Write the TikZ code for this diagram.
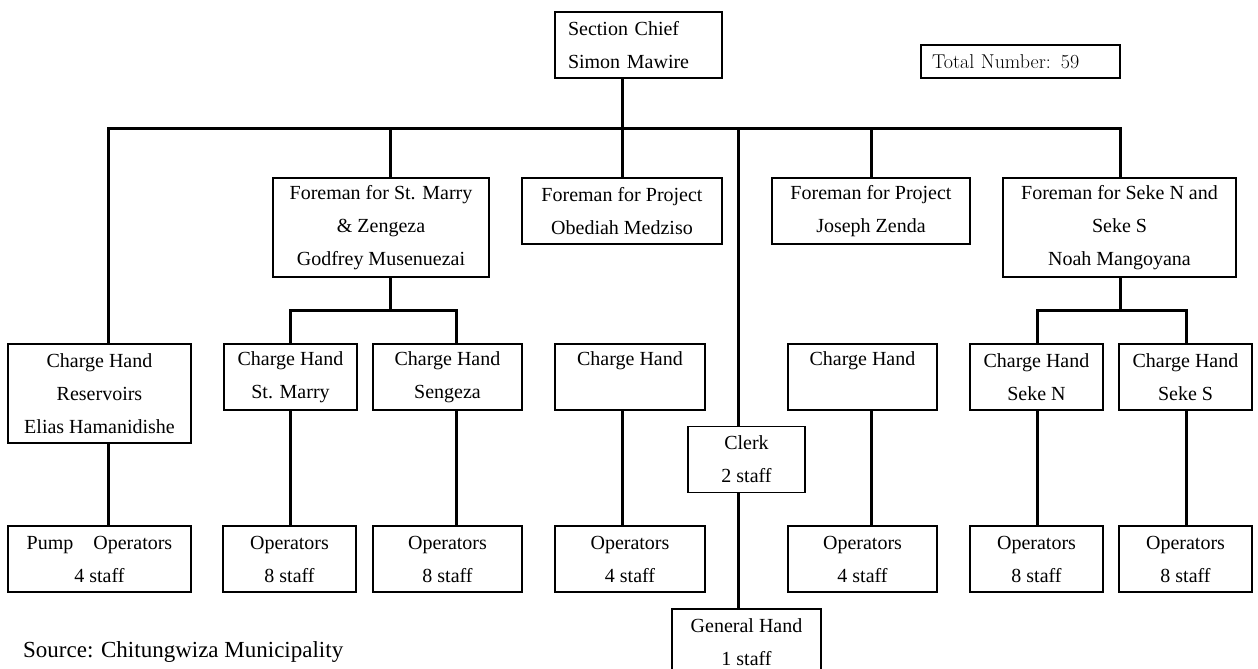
\documentclass[tikz,border=0pt]{standalone}
\usepackage{fontspec}
\setmainfont{Liberation Serif}

\tikzset{
	box/.style={draw,line width=1.2pt,inner sep=0pt,align=center,minimum height=66pt,font=\fontsize{20}{33}\selectfont},
	tall/.style={box,minimum height=99pt},
	conn/.style={line width=3pt},
}

\begin{document}
\begin{tikzpicture}[x=1pt,y=-1pt]
	\useasboundingbox (0,0) rectangle (1258,669);

	\node[box,align=left,inner xsep=13pt,text width=141pt] at (638.5,45)(chief){Section Chief\\Simon Mawire};
	\node[box,minimum height=33pt,align=left,inner xsep=11pt,text width=177pt,font=\fontsize{20}{33}\fontfamily{lmr}\selectfont] at (1020.5,61.5)(total){Total Number: 59};

	\node[tall,minimum width=216pt] at (381,227.5)(f1){Foreman for St. Marry\\\& Zengeza\\Godfrey Musenuezai};
	\node[box,minimum width=200pt] at (622,211)(f2){Foreman for Project\\Obediah Medziso};
	\node[box,minimum width=198pt] at (871,211)(f3){Foreman for Project\\Joseph Zenda};
	\node[tall,minimum width=233pt] at (1119.5,227.5)(f4){Foreman for Seke N and\\Seke S\\Noah Mangoyana};

	\node[tall,minimum width=183pt] at (99.5,393.5)(chRes){Charge Hand\\Reservoirs\\Elias Hamanidishe};
	\node[box,minimum width=133pt] at (290.5,377)(chStM){Charge Hand\\St. Marry};
	\node[box,minimum width=149pt] at (447.5,377)(chSen){Charge Hand\\Sengeza};
	\node[box,minimum width=150pt] at (630,377)(chP1){Charge Hand\\\phantom{Charge Hand}};
	\node[box,minimum width=149pt] at (862.5,377)(chP2){Charge Hand\\\phantom{Charge Hand}};
	\node[box,minimum width=133pt] at (1036.5,377)(chSN){Charge Hand\\Seke N};
	\node[box,minimum width=133pt] at (1185.5,377)(chSS){Charge Hand\\Seke S};

	\node[box,minimum width=117pt] at (746.5,459.5)(clerk){Clerk\\2 staff};

	\node[box,minimum width=183pt] at (99.5,559)(opRes){Pump\hspace{20pt}Operators\\4 staff};
	\node[box,minimum width=133pt] at (289.5,559)(opStM){Operators\\8 staff};
	\node[box,minimum width=149pt] at (447.5,559)(opSen){Operators\\8 staff};
	\node[box,minimum width=150pt] at (630,559)(opP1){Operators\\4 staff};
	\node[box,minimum width=149pt] at (862.5,559)(opP2){Operators\\4 staff};
	\node[box,minimum width=133pt] at (1036.5,559)(opSN){Operators\\8 staff};
	\node[box,minimum width=133pt] at (1185.5,559)(opSS){Operators\\8 staff};

	\node[box,minimum width=149pt] at (746.5,642)(gen){General Hand\\1 staff};

	\node[anchor=west,inner sep=0pt,font=\fontsize{23}{28}\selectfont] at (23,652)(src){Source: Chitungwiza Municipality};

	% main bus
	\coordinate (dRes) at (108,128);
	\coordinate (dF1) at (390,128);
	\coordinate (dF2) at (622,128);
	\coordinate (dClk) at (738,128);
	\coordinate (dF3) at (871,128);
	\coordinate (dF4) at (1120,128);
	\draw[conn](chief.south -| dF2) -- (dF2);
	\draw[conn](dRes |- chRes.north) -- (dRes) -- (dF4) -- (dF4 |- f4.north);
	\draw[conn](dF1)edge(dF1 |- f1.north)(dF2)edge(dF2 |- f2.north)(dClk)edge(dClk |- clerk.north)(dF3)edge(dF3 |- f3.north);

	% sub buses
	\coordinate (s1) at (390,310);
	\coordinate (s1L) at (290,310);
	\coordinate (s1R) at (456,310);
	\coordinate (s4) at (1120,310);
	\coordinate (s4L) at (1037,310);
	\coordinate (s4R) at (1186,310);
	\draw[conn](f1.south -| s1) -- (s1);
	\draw[conn](s1L |- chStM.north) -- (s1L) -- (s1R) -- (s1R |- chSen.north);
	\draw[conn](f4.south -| s4) -- (s4);
	\draw[conn](s4L |- chSN.north) -- (s4L) -- (s4R) -- (s4R |- chSS.north);

	% charge hands to operators
	\draw[conn](chRes.south -| dRes)edge(dRes |- opRes.north)
		(chStM.south -| s1L)edge(s1L |- opStM.north)
		(chSen.south -| s1R)edge(s1R |- opSen.north)
		(chP1.south -| dF2)edge(dF2 |- opP1.north)
		(chP2.south -| dF3)edge(dF3 |- opP2.north)
		(chSN.south -| s4L)edge(s4L |- opSN.north)
		(chSS.south -| s4R)edge(s4R |- opSS.north)
		(clerk.south -| dClk)edge(dClk |- gen.north);
\end{tikzpicture}
\end{document}
